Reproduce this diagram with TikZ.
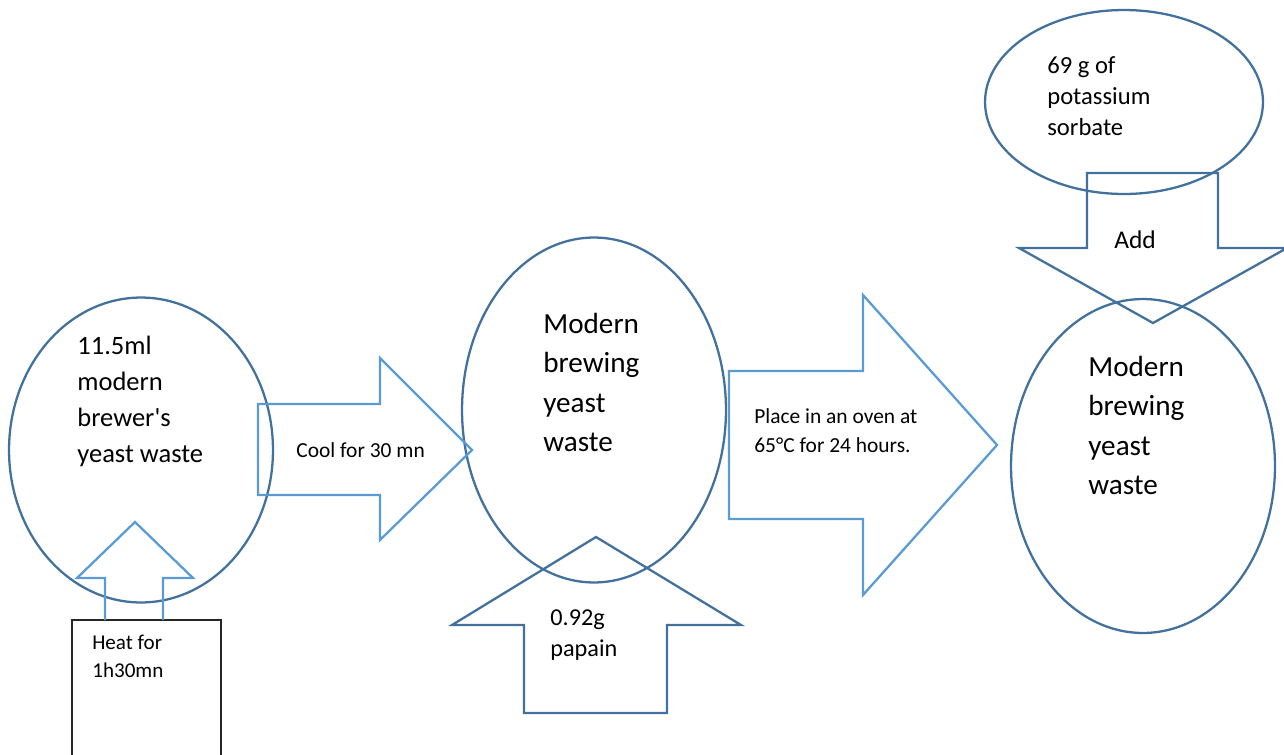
\documentclass[tikz,border=0pt]{standalone}
\usepackage{fontspec}
\setmainfont{Carlito}
\usetikzlibrary{shapes.geometric}
\definecolor{darkblue}{RGB}{65,113,156}
\definecolor{lightblue}{RGB}{91,155,213}

\begin{document}
\begin{tikzpicture}[x=0.02cm,y=-0.02cm,
		blob/.style={draw=darkblue,line width=1.3pt,ellipse,inner sep=0pt},
		txt/.style={anchor=north west,inner sep=0pt,align=left},
		darrow/.style={draw=darkblue,line width=1.3pt,line join=miter},
		larrow/.style={draw=lightblue,line width=1.3pt,line join=miter}]
		\useasboundingbox (0,0) rectangle (1284,754);
		
		% ellipses
		\node[blob,minimum width=5.28cm,minimum height=6.1cm] (waste) at (141,450) {};
		\node[blob,minimum width=5.28cm,minimum height=6.9cm] (brew1) at (594,410) {};
		\node[blob,minimum width=5.28cm,minimum height=6.68cm] (brew2) at (1143,466) {};
		\node[blob,minimum width=5.56cm,minimum height=3.68cm] (sorbate) at (1124,102) {};
		
		% heat box
		\draw[black!85,line width=1pt] (72,620) rectangle (221,760);
		
		% light arrows
		\draw[larrow] (258,404) -- (380,404) -- (380,358) -- (472,450) 
		-- (380,540) -- (380,495) -- (258,495) -- cycle;
		\draw[larrow] (105,620) -- (105,578) -- (77,578) -- (135,522) 
		-- (193,578) -- (163,578) -- (163,620);
		\draw[larrow] (729,371) -- (863,371) -- (863,295) -- (997,445) 
		-- (863,595) -- (863,519) -- (729,519) -- cycle;
		
		% dark arrows
		\draw[darrow] (524,713) -- (524,625) -- (452,625) -- (596,537) 
		-- (741,625) -- (667,625) -- (667,713) -- cycle;
		\draw[darrow] (1087,173) -- (1218,173) -- (1218,248) -- (1287,248) 
		-- (1153,323) -- (1019,248) -- (1087,248) -- cycle;
		
		% texts
		\node[txt,font=\fontsize{15.1pt}{20.4pt}\selectfont] (t1) at (77,336)
		{11.5ml\\modern\\brewer\textquotesingle s\\yeast waste};
		\node[txt,font=\fontsize{16.6pt}{22.4pt}\selectfont] (t2) at (543,313)
		{Modern\\brewing\\yeast\\waste};
		\node[txt,font=\fontsize{16.6pt}{22.4pt}\selectfont] (t3) at (1088,356)
		{Modern\\brewing\\yeast\\waste};
		\node[txt,font=\fontsize{14pt}{17.8pt}\selectfont] (t4) at (1047,56)
		{69 g of\\potassium\\sorbate};
		\node[txt,font=\fontsize{13.8pt}{17.6pt}\selectfont] (t5) at (550,609)
		{0.92g\\papain};
		\node[txt,font=\fontsize{12.2pt}{16.4pt}\selectfont] (t6) at (754,408)
		{Place in an oven at\\65°C for 24 hours.};
		\node[txt,font=\fontsize{12pt}{15.9pt}\selectfont] (t7) at (92,635)
		{Heat for\\1h30mn};
		\node[anchor=base west,inner sep=0pt,font=\fontsize{12.2pt}{16.4pt}\selectfont] 
		(t8) at (296,457) {Cool for 30 mn};
		\node[anchor=base west,inner sep=0pt,font=\fontsize{14.5pt}{18pt}\selectfont] 
		(t9) at (1114,248) {Add};
	\end{tikzpicture}
\end{document}
